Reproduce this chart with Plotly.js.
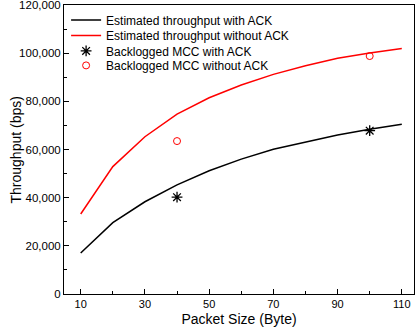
<!DOCTYPE html>
<html><head><meta charset="utf-8">
<script src="https://cdn.plot.ly/plotly-3.0.1.min.js"></script>
<style>html,body{margin:0;padding:0;background:#fff}#c{width:416px;height:331px}</style>
</head><body><div id="c"></div>
<script>
const packetSize = [10,20,30,40,50,60,70,80,90,100,110];
const estWithAck = [17000,29600,38300,45300,51200,56000,60100,63200,66000,68400,70500];
const estWithoutAck = [33200,52900,65300,74700,81500,86800,91200,94800,97900,100100,101900];
const mccSize = [40,100];
const mccWithAck = [40200,67800];
const mccWithoutAck = [63500,98800];
const yTickVals = [0,20000,40000,60000,80000,100000,120000];
const yTickText = ['0','20,000','40,000','60,000','80,000','100,000','120,000'];

const font = 'Liberation Sans, Arial, sans-serif';
const data = [
  {x: packetSize, y: estWithAck, mode:'lines', name:'Estimated throughput with ACK', legend:'legend', line:{color:'#000000', width:1.5}},
  {x: packetSize, y: estWithoutAck, mode:'lines', name:'Estimated throughput without ACK', legend:'legend2', line:{color:'#ff0000', width:1.5}},
  {x: mccSize, y: mccWithAck, mode:'markers', name:'Backlogged MCC with ACK', legend:'legend3', marker:{symbol:'asterisk-open', size:9, color:'#000000', line:{color:'#000000', width:1.3}}},
  {x: mccSize, y: mccWithoutAck, mode:'markers', name:'Backlogged MCC without ACK', legend:'legend4', marker:{symbol:'circle-open', size:7, color:'#ff0000', line:{color:'#ff0000', width:1}}}
];
const leg = (y) => ({x:0.006, y:y, xanchor:'left', yanchor:'middle', bgcolor:'rgba(0,0,0,0)', font:{size:12}, itemwidth:30});
const layout = {
  width:416, height:331,
  margin:{l:64, r:2, t:5, b:37},
  paper_bgcolor:'#fff', plot_bgcolor:'#fff',
  font:{family:font, size:11, color:'#000'},
  showlegend:true,
  legend:leg(0.948), legend2:leg(0.8945), legend3:leg(0.841), legend4:leg(0.791),
  xaxis:{range:[4.8,113.8], tick0:10, dtick:20, ticks:'inside', ticklen:5, tickcolor:'#000', showline:true, linecolor:'#000', linewidth:1, mirror:true, showgrid:false, zeroline:false,
    minor:{ticks:'inside', ticklen:3, dtick:10, tick0:10, tickcolor:'#000', showgrid:false},
    title:{text:'Packet Size (Byte)', font:{size:14}, standoff:4}, tickfont:{size:11}},
  yaxis:{range:[0,120000], tickmode:'array', tickvals:yTickVals, ticktext:yTickText, ticklabeloverflow:'allow', ticks:'inside', ticklen:5, tickcolor:'#000', showline:true, linecolor:'#000', linewidth:1, mirror:true, showgrid:false, zeroline:false,
    minor:{ticks:'inside', ticklen:3, dtick:10000, tick0:0, tickcolor:'#000', showgrid:false},
    tickfont:{size:11.5}},
  annotations:[{text:'Throughput (bps)', xref:'paper', yref:'paper', x:-0.14, y:0.5, xanchor:'center', yanchor:'middle', textangle:-90, showarrow:false, font:{size:14}}]
};
Plotly.newPlot('c', data, layout, {displayModeBar:false, staticPlot:true});
</script></body></html>
